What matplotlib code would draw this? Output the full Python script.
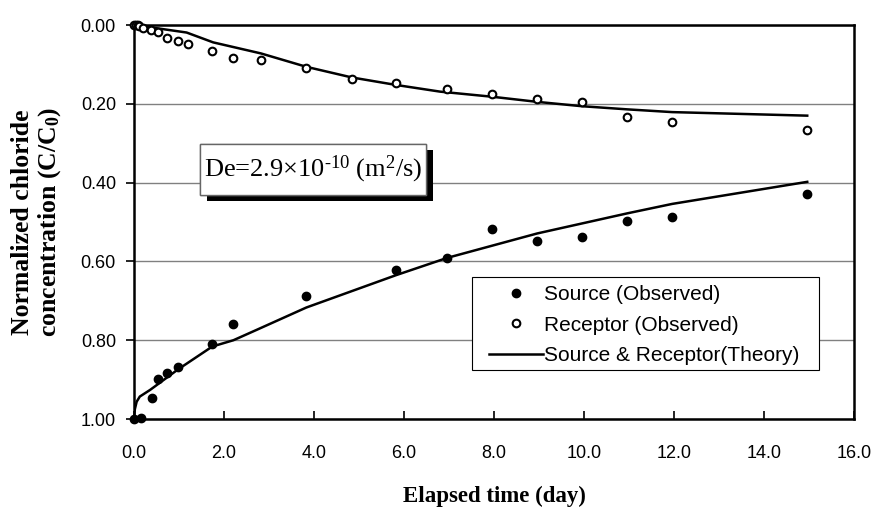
import matplotlib

matplotlib.use("Agg")

import matplotlib.pyplot as plt
import matplotlib.patheffects as pe
from matplotlib.patches import Rectangle
from matplotlib.ticker import FormatStrFormatter, MultipleLocator

source_days = [0.0, 0.16, 0.40, 0.54, 0.74, 0.98, 1.74, 2.21, 3.83, 5.82,
               6.96, 7.96, 8.96, 9.95, 10.96, 11.96, 14.96]
source_conc = [1.00, 0.998, 0.947, 0.898, 0.884, 0.869, 0.810, 0.758, 0.689, 0.623,
               0.591, 0.518, 0.548, 0.539, 0.498, 0.488, 0.429]

receptor_days = [0.0, 0.04, 0.08, 0.12, 0.20, 0.38, 0.54, 0.74, 0.98, 1.19, 1.74,
                 2.21, 2.82, 3.83, 4.84, 5.82, 6.96, 7.96, 8.96, 9.95, 10.96, 11.96,
                 14.96]
receptor_conc = [0.0, 0.0, 0.0, 0.002, 0.008, 0.012, 0.017, 0.034, 0.041, 0.047,
                 0.066, 0.083, 0.088, 0.110, 0.137, 0.146, 0.162, 0.174, 0.188, 0.195,
                 0.233, 0.246, 0.266]

# theoretical curves
theory_src_days = [0.0, 0.02, 0.06, 0.13, 0.36, 0.98, 1.74, 2.21, 2.72, 3.83, 5.82,
                   6.96, 8.96, 10.96, 11.96, 14.96]
theory_src_conc = [1.00, 0.975, 0.956, 0.943, 0.926, 0.874, 0.816, 0.800, 0.774, 0.717,
                   0.635, 0.591, 0.529, 0.478, 0.454, 0.398]
theory_rec_days = [0.0, 0.5, 1.17, 1.76, 2.82, 3.83, 4.84, 5.82, 6.8, 7.96, 8.96,
                   9.95, 10.96, 11.96, 14.96]
theory_rec_conc = [0.0, 0.008, 0.019, 0.044, 0.072, 0.106, 0.133, 0.152, 0.169, 0.182,
                   0.195, 0.206, 0.214, 0.221, 0.230]

plt.rcParams["font.family"] = ["Liberation Sans", "DejaVu Sans"]
plt.rcParams["mathtext.fontset"] = "custom"
plt.rcParams["mathtext.rm"] = "Liberation Serif"
plt.rcParams["mathtext.it"] = "Liberation Serif:italic"
plt.rcParams["mathtext.bf"] = "Liberation Serif:bold"

fig = plt.figure(figsize=(8.79, 5.11), dpi=100)
ax = fig.add_axes([0.1524, 0.180, 0.8192, 0.771])

ax.plot(theory_src_days, theory_src_conc, color="black", lw=1.8,
        label="Source & Receptor(Theory)", zorder=3)
ax.plot(theory_rec_days, theory_rec_conc, color="black", lw=1.8, zorder=3)
ax.plot(source_days, source_conc, "o", color="black", ms=6,
        label="Source (Observed)", zorder=4, clip_on=False)
ax.plot(receptor_days, receptor_conc, "o", mfc="white", mec="black", mew=1.5, ms=5.5,
        label="Receptor (Observed)", zorder=4, clip_on=False)

ax.set_xlim(0, 16)
ax.set_ylim(1.0, 0.0)
ax.xaxis.set_major_locator(MultipleLocator(2))
ax.yaxis.set_major_locator(MultipleLocator(0.2))
ax.xaxis.set_major_formatter(FormatStrFormatter("%.1f"))
ax.yaxis.set_major_formatter(FormatStrFormatter("%.2f"))
ax.grid(axis="y", color="#808080", lw=1)
ax.set_axisbelow(True)
for s in ax.spines.values():
    s.set_linewidth(1.8)
    s.set_color("black")
ax.tick_params(axis="x", direction="in", length=6, width=1.2, pad=19, labelsize=13)
ax.tick_params(axis="y", direction="out", length=6, width=1.2, pad=7, labelsize=13)

ax.set_xlabel("Elapsed time (day)", family="Liberation Serif", fontweight="bold",
              fontsize=16.5, labelpad=17)
ax.set_ylabel("Normalized chloride\nconcentration (C/C$_\\mathregular{0}$)",
              family="Liberation Serif", fontweight="bold", fontsize=18.5,
              linespacing=1.1)
ax.yaxis.label.set_verticalalignment("center")
ax.yaxis.set_label_coords(-0.135, 0.5)

# annotation box with drop shadow
box = Rectangle((0.0917, 0.5685), 0.3139, 0.1295, transform=ax.transAxes,
                fc="white", ec="#666666", lw=1.0, zorder=2)
box.set_path_effects([
    pe.withSimplePatchShadow(offset=(5, -4), shadow_rgbFace="black", alpha=1.0),
    pe.Normal(),
])
ax.add_patch(box)
ax.text(0.2486, 0.633, "De=2.9×10$^{\\text{-10}}$ (m$^{\\text{2}}$/s)",
        transform=ax.transAxes, family="Liberation Serif", fontsize=19,
        va="center", ha="center", zorder=3)

# legend with a plain rectangular frame
frame = Rectangle((0.469, 0.124), 0.482, 0.236, transform=ax.transAxes,
                  fc="white", ec="black", lw=0.8, zorder=5)
ax.add_patch(frame)
handles, labels = ax.get_legend_handles_labels()
order = [1, 2, 0]
leg = ax.legend([handles[i] for i in order], [labels[i] for i in order],
                loc="upper left", bbox_to_anchor=(0.493, 0.340), fontsize=15,
                frameon=False, handlelength=2.6, handletextpad=0.05, borderpad=0,
                labelspacing=0.55, borderaxespad=0)
leg.set_zorder(6)

fig.savefig("out.png", dpi=100)
